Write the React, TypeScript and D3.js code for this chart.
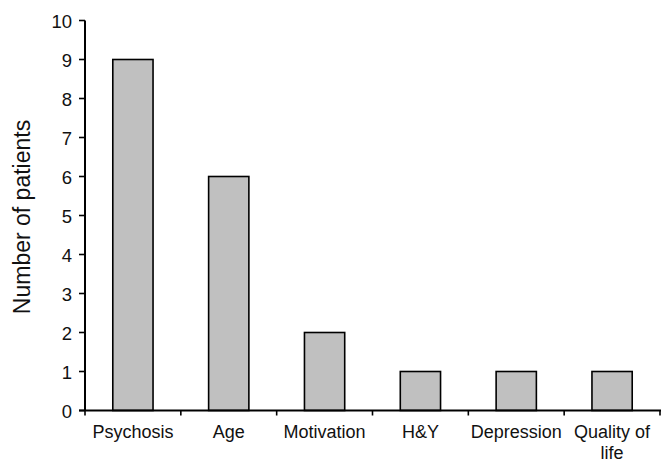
import React from "react";
import * as d3 from "d3";

const categories: string[][] = [["Psychosis"], ["Age"], ["Motivation"], ["H&Y"], ["Depression"], ["Quality of", "life"]];
const values: number[] = [9, 6, 2, 1, 1, 1];
const yTicks: number[] = [0, 1, 2, 3, 4, 5, 6, 7, 8, 9, 10];
const yTitle = "Number of patients";

const W = 662;
const H = 459;
const FONT = "'Liberation Sans', Arial, sans-serif";

export default function App() {
  const left = 85;
  const right = 660;
  const top = 20.5;
  const bottom = 410.5;
  const keys = categories.map((c) => c.join(" "));
  const x = d3.scaleBand<string>().domain(keys).range([left, right]).paddingInner(0.58).paddingOuter(0.29);
  const y = d3.scaleLinear().domain([0, 10]).range([bottom, top]);
  const step = x.step();
  const boundaries = d3.range(keys.length + 1).map((i) => left + i * step);

  return (
    <svg width={W} height={H} style={{ position: "absolute", left: 0, top: 0, background: "#fff" }}>
      {values.map((v, i) => (
        <rect
          key={i}
          x={x(keys[i])!}
          y={y(v)}
          width={x.bandwidth()}
          height={y(0) - y(v)}
          fill="#c0c0c0"
          stroke="#000"
          strokeWidth={1.6}
        />
      ))}
      {/* y axis */}
      <line x1={left} x2={left} y1={top} y2={bottom} stroke="#000" strokeWidth={2} />
      {yTicks.map((t) => (
        <g key={t}>
          <line x1={left - 6} x2={left} y1={y(t)} y2={y(t)} stroke="#000" strokeWidth={1.6} />
          <text x={72} y={y(t) + 1} textAnchor="end" dominantBaseline="central" fontFamily={FONT} fontSize={18.5} fill="#111">
            {t}
          </text>
        </g>
      ))}
      {/* x axis */}
      <line x1={left - 6} x2={right + 1} y1={bottom} y2={bottom} stroke="#000" strokeWidth={2} />
      {boundaries.map((b, i) => (
        <line key={i} x1={b} x2={b} y1={bottom} y2={bottom + 5} stroke="#000" strokeWidth={1.6} />
      ))}
      {categories.map((lines, i) => (
        <text key={i} textAnchor="middle" fontFamily={FONT} fontSize={18} fill="#111">
          {lines.map((ln, j) => (
            <tspan key={j} x={x(keys[i])! + x.bandwidth() / 2} y={438 + j * 21}>
              {ln}
            </tspan>
          ))}
        </text>
      ))}
      <text
        transform={`translate(22, 217) rotate(-90)`}
        textAnchor="middle"
        dominantBaseline="central"
        fontFamily={FONT}
        fontSize={23}
        fill="#111"
      >
        {yTitle}
      </text>
    </svg>
  );
}
